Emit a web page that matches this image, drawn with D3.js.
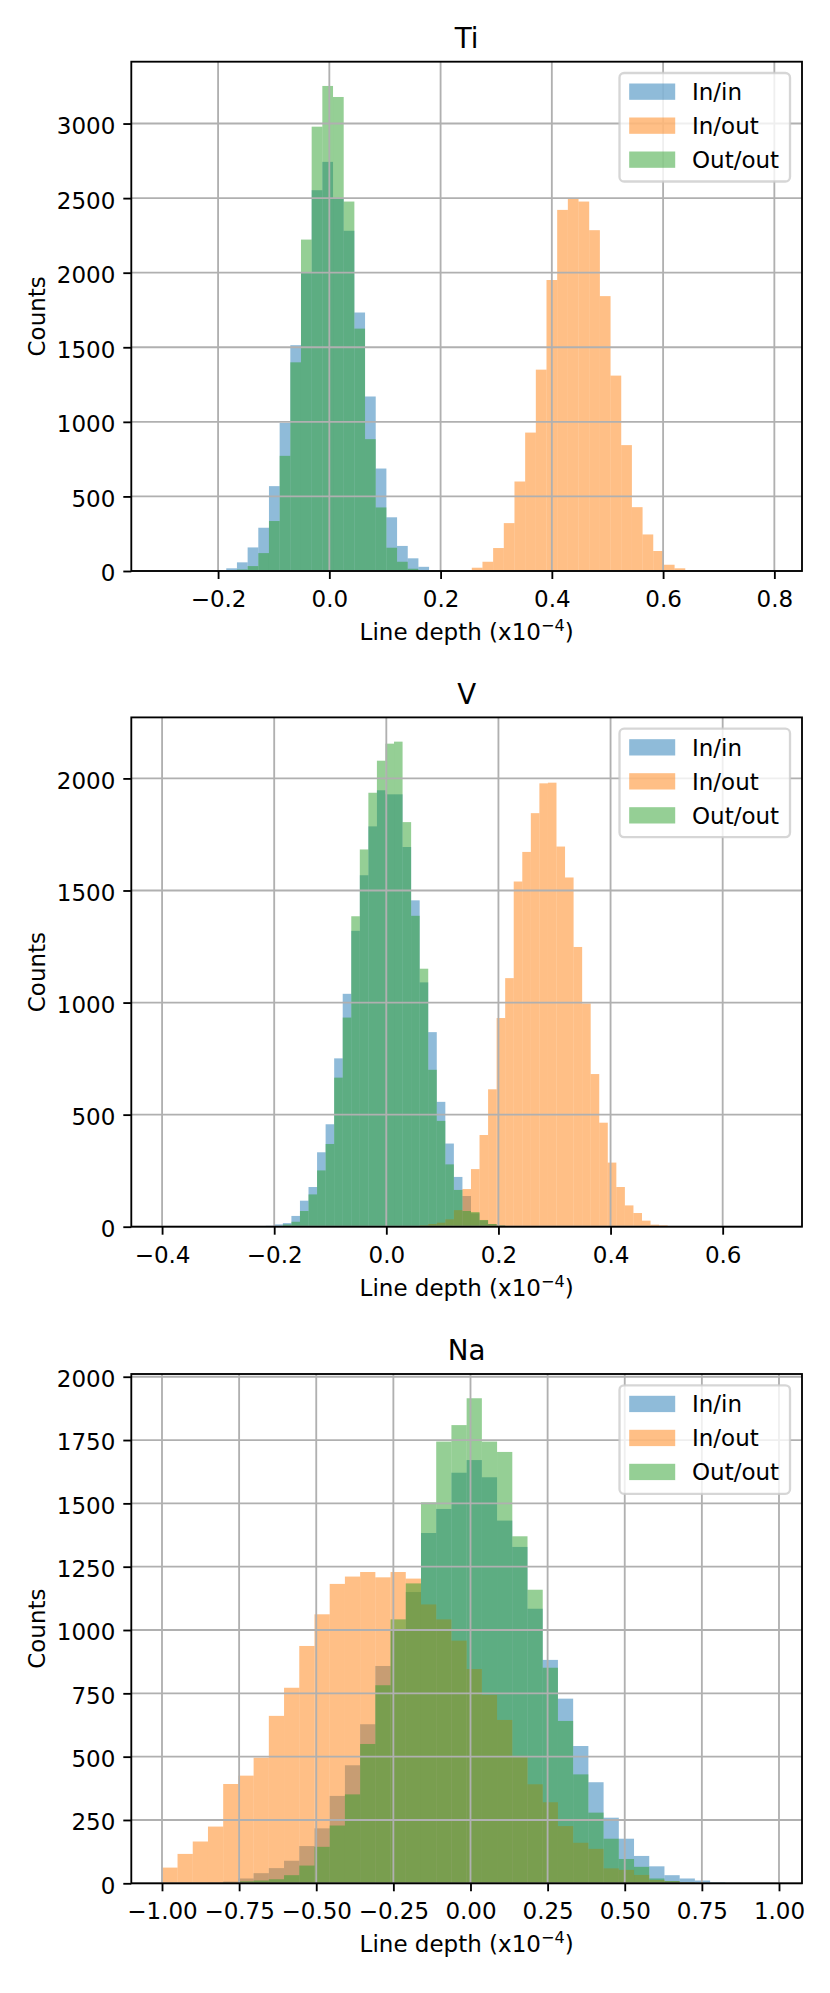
<!DOCTYPE html>
<html>
<head>
<meta charset="utf-8">
<script src="https://cdn.jsdelivr.net/npm/d3@7"></script>
<style>
  body { margin: 0; background: #fff; }
  text { font-family: "DejaVu Sans", sans-serif; }
</style>
</head>
<body>
<svg id="chart"></svg>
<script>
// ---------------------------------------------------- data
const seriesNames = ["In/in", "In/out", "Out/out"];

// Ti : 57 shared bins
const tiBinStart = -0.3004, tiBinWidth = 0.019189;
const tiInIn = [1,0,0,1,2,5,18,58,158,290,569,993,1514,2001,2553,2743,2500,2281,1733,1170,687,360,168,85,28,6,2,1,
  0,0,0,0,0,0,0,0,0,0,0,0,0,0,0,0,0,0,0,0,0,0,0,0,0,0,0,0,0];
const tiInOut = [0,0,0,0,0,0,0,0,0,0,0,0,0,0,0,0,0,0,0,0,0,0,0,0,0,0,0,
  1,6,22,62,154,321,600,928,1350,1951,2421,2500,2477,2285,1843,1310,844,428,245,134,42,18,6,3,1,0,0,0,0,1];
const tiOutOut = [0,0,0,0,0,0,3,10,33,120,335,772,1399,2222,2979,3252,3178,2477,1625,884,426,156,62,15,4,1,
  0,0,0,0,0,0,0,0,0,0,0,0,0,0,0,0,0,0,0,0,0,0,0,0,0,0,0,0,0,0,0];
const tiXLimits = [-0.356, 0.8497];
const tiXTicks = [-0.2, 0.0, 0.2, 0.4, 0.6, 0.8];
const tiYTicks = [0, 500, 1000, 1500, 2000, 2500, 3000];

// V : 71 shared bins
const vBinStart = -0.39809, vBinWidth = 0.015253;
const vInIn = [0,0,0,0,0,0,0,0,0,0,1,2,4,10,16,48,116,177,332,457,751,1039,1320,1568,1786,1947,1929,1929,1694,1456,
  1090,868,557,371,222,137,60,28,12,6,3,1,
  0,0,0,0,0,0,0,0,0,0,0,0,0,0,0,0,0,0,0,0,0,0,0,0,0,0,0,0,0];
const vInOut = [0,0,0,0,0,0,0,0,0,0,0,0,0,0,0,0,0,0,0,0,0,0,0,0,0,0,0,0,
  1,3,6,12,18,33,74,168,257,409,613,931,1109,1540,1672,1845,1978,1981,1696,1558,1248,996,681,464,286,177,95,61,27,9,6,3,2,1,
  0,0,0,0,0,0,0,0,1];
const vOutOut = [0,0,0,0,0,0,0,0,0,0,0,0,1,3,10,22,70,144,251,369,665,933,1385,1683,1936,2079,2155,2164,1805,1387,
  1151,700,472,278,164,70,65,30,12,5,2,1,
  0,0,0,0,0,0,0,0,0,0,0,0,0,0,0,0,0,0,0,0,0,0,0,0,0,0,0,0,0];
const vXLimits = [-0.4549, 0.7415];
const vXTicks = [-0.4, -0.2, 0.0, 0.2, 0.4, 0.6];
const vYTicks = [0, 500, 1000, 1500, 2000];

// Na : 40 shared bins
const naBinStart = -0.99893, naBinWidth = 0.049323;
const naInIn = [0,0,0,2,7,19,40,60,89,147,217,345,466,628,858,1000,1150,1383,1478,1621,
  1671,1603,1432,1328,1084,882,729,542,399,259,176,108,67,32,19,11,4,2,1,1];
const naInOut = [62,116,165,224,392,425,496,661,772,937,1062,1182,1211,1229,1208,1229,1203,1101,1042,958,
  846,744,645,503,391,320,226,160,136,59,53,33,13,8,3,1,0,0,0,0];
const naOutOut = [0,0,0,1,2,8,11,16,32,70,144,228,351,550,782,1042,1184,1504,1744,1809,
  1915,1744,1703,1370,1159,851,641,430,279,176,96,65,19,9,3,1,0,0,0,0];
const naXLimits = [-1.0995, 1.0746];
const naXTicks = [-1.0, -0.75, -0.5, -0.25, 0.0, 0.25, 0.5, 0.75, 1.0];
const naYTicks = [0, 250, 500, 750, 1000, 1250, 1500, 1750, 2000];

const panels = [
  { name: "Ti", binStart: tiBinStart, binWidth: tiBinWidth, counts: [tiInIn, tiInOut, tiOutOut],
    xLimits: tiXLimits, xTicks: tiXTicks, yTicks: tiYTicks, xFormat: d3.format(".1f") },
  { name: "V", binStart: vBinStart, binWidth: vBinWidth, counts: [vInIn, vInOut, vOutOut],
    xLimits: vXLimits, xTicks: vXTicks, yTicks: vYTicks, xFormat: d3.format(".1f") },
  { name: "Na", binStart: naBinStart, binWidth: naBinWidth, counts: [naInIn, naInOut, naOutOut],
    xLimits: naXLimits, xTicks: naXTicks, yTicks: naYTicks, xFormat: d3.format(".2f") }
];

// ---------------------------------------------------- layout
const width = 830, height = 1993;
const axLeft = 131.3, axRight = 802;
const axW = axRight - axLeft, axH = 509.3;
const panelTops = [61.7, 717.4, 1374];
const colors = ["#1f77b4", "#ff7f0e", "#2ca02c"];
const lw = 1.84;      // 0.8pt
const fs = 23;        // 10pt
const titleFs = 27.7; // 12pt

const svg = d3.select("#chart")
    .attr("width", width)
    .attr("height", height)
    .attr("viewBox", `0 0 ${width} ${height}`);

svg.append("rect").attr("width", width).attr("height", height).attr("fill", "#fff");

panels.forEach(function(p, pi) {
  const g = svg.append("g")
      .attr("transform", `translate(${axLeft},${panelTops[pi]})`);

  const ymax = d3.max(p.counts, arr => d3.max(arr));

  const x = d3.scaleLinear().domain(p.xLimits).range([0, axW]);
  const y = d3.scaleLinear().domain([0, ymax * 1.05]).range([axH, 0]);

  // Bars _____________________________________
  p.counts.forEach(function(arr, si) {
    const bins = arr.map((c, i) => ({ c: c, x0: p.binStart + i * p.binWidth, x1: p.binStart + (i + 1) * p.binWidth }))
        .filter(d => d.c > 0);
    g.append("g")
      .selectAll("rect")
      .data(bins)
      .join("rect")
        .attr("x", d => x(d.x0))
        .attr("width", d => x(d.x1) - x(d.x0))
        .attr("y", d => y(d.c))
        .attr("height", d => axH - y(d.c))
        .attr("fill", colors[si])
        .attr("fill-opacity", 0.5);
  });

  // Grid (drawn above the bars, as matplotlib does) _____________________________________
  const grid = g.append("g").attr("stroke", "#b0b0b0").attr("stroke-width", lw);
  grid.selectAll("line.gx")
    .data(p.xTicks)
    .join("line")
      .attr("class", "gx")
      .attr("x1", d => x(d)).attr("x2", d => x(d))
      .attr("y1", 0).attr("y2", axH);
  grid.selectAll("line.gy")
    .data(p.yTicks)
    .join("line")
      .attr("class", "gy")
      .attr("x1", 0).attr("x2", axW)
      .attr("y1", d => y(d)).attr("y2", d => y(d));

  // Axes _____________________________________
  const xAxis = g.append("g")
      .attr("transform", `translate(0,${axH})`)
      .call(d3.axisBottom(x).tickValues(p.xTicks).tickFormat(p.xFormat).tickSize(8).tickPadding(8));
  xAxis.select(".domain").remove();
  xAxis.attr("font-size", fs).attr("font-family", "DejaVu Sans");
  xAxis.selectAll("line").attr("stroke", "#000").attr("stroke-width", lw);
  xAxis.selectAll("text").attr("fill", "#000").attr("y", 36).attr("dy", 0);

  const yAxis = g.append("g")
      .call(d3.axisLeft(y).tickValues(p.yTicks).tickFormat(d3.format("d")).tickSize(8).tickPadding(8));
  yAxis.select(".domain").remove();
  yAxis.attr("font-size", fs).attr("font-family", "DejaVu Sans");
  yAxis.selectAll("line").attr("stroke", "#000").attr("stroke-width", lw);
  yAxis.selectAll("text").attr("fill", "#000").attr("dy", "0.43em");

  // frame
  g.append("rect")
    .attr("width", axW).attr("height", axH)
    .attr("fill", "none")
    .attr("stroke", "#000")
    .attr("stroke-width", lw);

  // Title and labels _____________________________________
  g.append("text")
    .text(p.name)
    .attr("x", axW / 2)
    .attr("y", -13.8)
    .attr("text-anchor", "middle")
    .attr("font-size", titleFs);

  const xl = g.append("text")
    .attr("x", axW / 2)
    .attr("y", axH + 69)
    .attr("text-anchor", "middle")
    .attr("font-size", fs);
  xl.append("tspan").text("Line depth (x10");
  xl.append("tspan").text("\u22124").attr("font-size", 16.1).attr("dy", -9);
  xl.append("tspan").text(")").attr("dy", 9);

  g.append("text")
    .text("Counts")
    .attr("transform", `translate(${44.5 - axLeft},${axH / 2}) rotate(-90)`)
    .attr("text-anchor", "middle")
    .attr("font-size", fs);

  // Legend _____________________________________
  const lgW = 170.5, lgH = 108.5;
  const legend = g.append("g")
      .attr("transform", `translate(${axW - 12 - lgW},11.3)`);
  legend.append("rect")
    .attr("width", lgW).attr("height", lgH)
    .attr("rx", 4.6).attr("ry", 4.6)
    .attr("fill", "#fff").attr("fill-opacity", 0.8)
    .attr("stroke", "#cccccc").attr("stroke-opacity", 0.8)
    .attr("stroke-width", 2.3);
  const rows = legend.selectAll("g.row")
    .data(seriesNames)
    .join("g")
      .attr("class", "row")
      .attr("transform", (d, i) => `translate(0,${10.5 + i * 34})`);
  rows.append("rect")
    .attr("x", 9.7).attr("width", 46).attr("height", 16.3)
    .attr("fill", (d, i) => colors[i]).attr("fill-opacity", 0.5);
  rows.append("text")
    .text(d => d)
    .attr("x", 72.5)
    .attr("y", 16.6)
    .attr("font-size", fs);
});
</script>
</body>
</html>
